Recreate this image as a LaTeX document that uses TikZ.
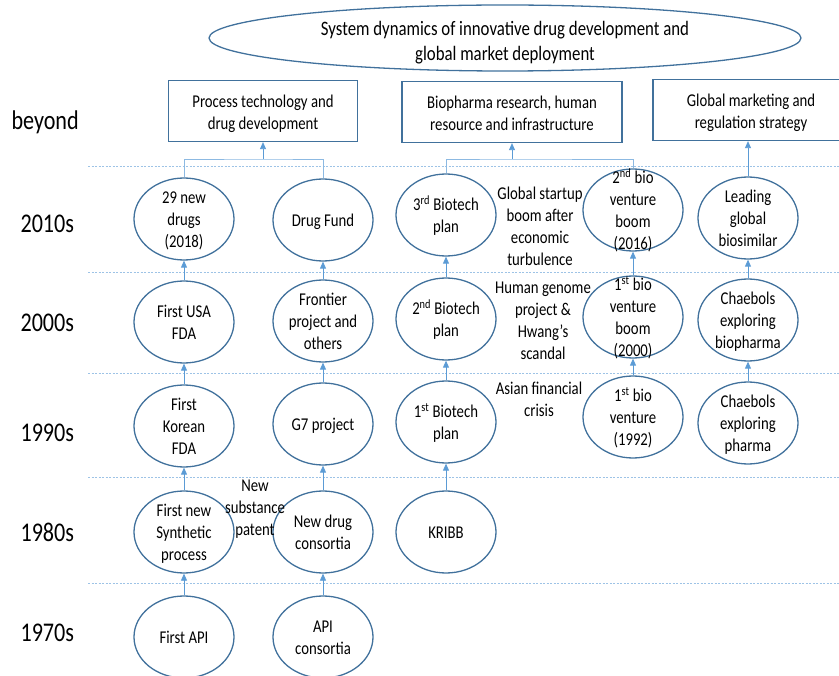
\documentclass[tikz,border=0pt]{standalone}
\usepackage{fontspec}
\setmainfont[FakeStretch=0.82]{Carlito}
\usetikzlibrary{shapes.geometric, arrows.meta, positioning}
\definecolor{edgeblue}{HTML}{41719C}
\definecolor{arrblue}{HTML}{5B9BD5}
\definecolor{gridblue}{HTML}{9DC3E6}
\newcommand{\ovl}[2][-6.5pt]{\smash{\raisebox{#1}{\begin{tabular}{@{}c@{}}#2\end{tabular}}}}

\begin{document}
\begin{tikzpicture}[x=1pt, y=-1pt,
    txt/.style={font=\fontsize{18}{22}\selectfont, align=center},
    stage/.style={draw=edgeblue, line width=1.3pt, ellipse, minimum width=100pt, minimum height=82pt, inner sep=0pt, txt},
    theme/.style={draw=edgeblue, line width=1.3pt, rectangle, inner sep=0pt, minimum height=61pt, txt},
    yearlbl/.style={font=\fontsize{27}{30}\selectfont, anchor=base west},
    grid/.style={gridblue, line width=0.8pt, dash pattern=on 2pt off 1.5pt},
    arr/.style={arrblue, line width=0.8pt, -{Triangle[width=6pt,length=7pt]}},
    link/.style={arrblue!70, line width=0.8pt}]
    \useasboundingbox (0,0) rectangle (839,676);

    % period lines and labels
    \foreach \gy in {166,272,373,477,583}
        \draw[grid] (88,\gy) -- (839,\gy);
    \node[yearlbl] (yrbeyond) at (8,130) {beyond};
    \foreach \yr/\yb in {2010s/233, 2000s/332, 1990s/442, 1980s/541, 1970s/641}
        \node[yearlbl] (yr\yr) at (17,\yb) {\yr};

    % top
    \node[draw=edgeblue, line width=1.3pt, ellipse, minimum width=592pt, minimum height=66pt, inner sep=0pt, font=\fontsize{20.5}{25}\selectfont] (sys) at (505,38) {\ovl[-10pt]{System dynamics of innovative drug development and\\global market deployment}};
    \node[theme, minimum width=189pt] (proc) at (263,111) {\ovl[-7pt]{Process technology and\\drug development}};
    \node[theme, minimum width=220pt] (bio) at (512,112) {\ovl[-7pt]{Biopharma research, human\\resource and infrastructure}};
    \node[theme, minimum width=196pt] (glob) at (751,110) {\ovl[-7pt]{Global marketing and\\regulation strategy}};

    % process technology column
    \node[stage] (api) at (184,637) {\ovl{First API}};
    \node[stage] (synth) at (184,532) {\ovl{First new\\Synthetic\\process}};
    \node[stage] (kfda) at (184,426) {\ovl{First\\Korean\\FDA}};
    \node[stage] (usfda) at (184,322) {\ovl{First USA\\FDA}};
    \node[stage] (newdrugs) at (184,219) {\ovl{29 new\\drugs\\(2018)}};

    % drug development column
    \node[stage] (apicons) at (323,637) {\ovl{API\\consortia}};
    \node[stage] (ndcons) at (323,532) {\ovl{New drug\\consortia}};
    \node[stage] (gseven) at (323,424) {\ovl{G7 project}};
    \node[stage] (frontier) at (323,321) {\ovl{Frontier\\project and\\others}};
    \node[stage] (fund) at (323,220) {\ovl{Drug Fund}};

    % biotech column
    \node[stage] (kribb) at (446,532) {\ovl{KRIBB}};
    \node[stage] (btone) at (446,422) {\ovl{1\textsuperscript{st} Biotech\\plan}};
    \node[stage] (bttwo) at (446,319) {\ovl{2\textsuperscript{nd} Biotech\\plan}};
    \node[stage] (btthree) at (446,215) {\ovl{3\textsuperscript{rd} Biotech\\plan}};

    % bio venture column
    \node[stage] (bvone) at (633,417) {\ovl{1\textsuperscript{st} bio\\venture\\(1992)}};
    \node[stage] (bvboom) at (633,317) {\ovl{1\textsuperscript{st} bio\\venture\\boom\\(2000)}};
    \node[stage] (bvtwo) at (633,210) {\ovl{2\textsuperscript{nd} bio\\venture\\boom\\(2016)}};

    % chaebol column
    \node[stage] (chpharma) at (748,423) {\ovl{Chaebols\\exploring\\pharma}};
    \node[stage] (chbio) at (748,320) {\ovl{Chaebols\\exploring\\biopharma}};
    \node[stage] (biosim) at (748,218) {\ovl{Leading\\global\\biosimilar}};

    % events
    \node[txt] (patent) at (255,509) {New\\substance\\patent};
    \node[txt] (asia) at (539,399) {Asian financial\\crisis};
    \node[txt] (genome) at (543,321) {Human genome\\project \&\\Hwang’s\\scandal};
    \node[txt] (startup) at (540,226) {Global startup\\boom after\\economic\\turbulence};

    % connectors
    \draw[arr] (api) -- (synth);
    \draw[arr] (synth) -- (kfda);
    \draw[arr] (kfda) -- (usfda);
    \draw[arr] (usfda) -- (newdrugs);
    \draw[arr] (apicons) -- (ndcons);
    \draw[arr] (ndcons) -- (gseven);
    \draw[arr] (gseven) -- (frontier);
    \draw[arr] (frontier) -- (fund);
    \draw[arr] (kribb) -- (btone);
    \draw[arr] (btone) -- (bttwo);
    \draw[arr] (bttwo) -- (btthree);
    \draw[arr] (bvone) -- (bvboom);
    \draw[arr] (bvboom) -- (bvtwo);
    \draw[arr] (chpharma) -- (chbio);
    \draw[arr] (chbio) -- (biosim);

    \coordinate (brP) at (263,159);
    \coordinate (brB) at (512,159);
    \draw[link] (newdrugs.north) |- (brP) -| (fund.north);
    \draw[arr] (brP) -- (proc.south);
    \draw[link] (btthree.north) |- (brB) -| (bvtwo.north);
    \draw[arr] (brB) -- (bio.south);
    \draw[arr] (biosim) -- (glob.south -| biosim);
\end{tikzpicture}
\end{document}
